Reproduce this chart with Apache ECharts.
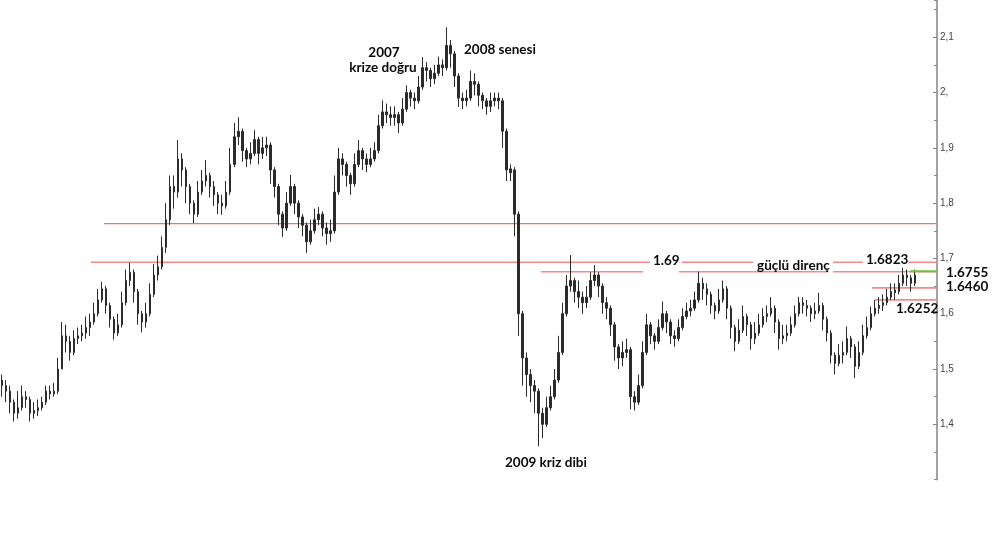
<!DOCTYPE html>
<html>
<head>
<meta charset="utf-8">
<script src="https://cdn.jsdelivr.net/npm/echarts@6/dist/echarts.min.js"></script>
<style>html,body{margin:0;padding:0;background:#fff}#c{width:1000px;height:534px}</style>
</head>
<body>
<div id="c"></div>
<script>
// Weekly-ish OHLC bars (GBP/USD style, 2001 -> 2014)
const opens = [
1.48,1.47,1.46,1.44,1.42,1.43,1.45,1.445,1.42,1.425,
1.43,1.44,1.46,1.455,1.46,1.50,1.56,1.55,1.53,1.555,
1.56,1.565,1.575,1.585,1.60,1.625,1.645,1.615,1.59,1.565,
1.58,1.62,1.66,1.675,1.64,1.60,1.585,1.60,1.635,1.67,
1.685,1.72,1.77,1.83,1.82,1.88,1.86,1.83,1.80,1.78,
1.82,1.84,1.85,1.83,1.815,1.80,1.795,1.82,1.87,1.92,
1.93,1.895,1.88,1.89,1.915,1.89,1.90,1.905,1.86,1.83,
1.78,1.755,1.80,1.83,1.80,1.775,1.76,1.73,1.75,1.77,
1.78,1.755,1.745,1.75,1.82,1.88,1.87,1.85,1.835,1.87,
1.895,1.88,1.87,1.88,1.895,1.94,1.965,1.96,1.955,1.96,
1.945,1.97,2.00,1.99,1.985,2.01,2.045,2.04,2.025,2.035,
2.05,2.045,2.085,2.07,2.03,1.99,1.985,1.99,2.02,2.015,
1.995,1.985,1.975,1.985,1.99,1.985,1.93,1.855,1.86,1.78,
1.60,1.52,1.49,1.47,1.46,1.42,1.40,1.43,1.45,1.48,
1.53,1.60,1.65,1.66,1.64,1.63,1.62,1.63,1.66,1.67,
1.65,1.62,1.61,1.58,1.54,1.52,1.53,1.535,1.45,1.44,
1.47,1.53,1.58,1.56,1.55,1.575,1.60,1.585,1.56,1.555,
1.575,1.595,1.605,1.61,1.625,1.655,1.645,1.635,1.615,1.605,
1.625,1.645,1.61,1.575,1.55,1.57,1.595,1.58,1.555,1.565,
1.58,1.595,1.60,1.61,1.585,1.555,1.56,1.565,1.58,1.60,
1.62,1.615,1.61,1.60,1.605,1.615,1.59,1.565,1.525,1.51,
1.525,1.53,1.555,1.54,1.505,1.53,1.56,1.575,1.60,1.61,
1.615,1.62,1.63,1.638,1.64,1.655,1.67,1.665,1.655];
const closes = [
1.47,1.46,1.44,1.42,1.43,1.45,1.445,1.42,1.425,1.43,
1.44,1.46,1.455,1.46,1.50,1.56,1.55,1.53,1.555,1.56,
1.565,1.575,1.585,1.60,1.625,1.645,1.615,1.59,1.565,1.58,
1.62,1.66,1.675,1.64,1.60,1.585,1.60,1.635,1.67,1.685,
1.72,1.77,1.83,1.82,1.88,1.86,1.83,1.80,1.78,1.82,
1.84,1.85,1.83,1.815,1.80,1.795,1.82,1.87,1.92,1.93,
1.895,1.88,1.89,1.915,1.89,1.90,1.905,1.86,1.83,1.78,
1.755,1.80,1.83,1.80,1.775,1.76,1.73,1.75,1.77,1.78,
1.755,1.745,1.75,1.82,1.88,1.87,1.85,1.835,1.87,1.895,
1.88,1.87,1.88,1.895,1.94,1.965,1.96,1.955,1.96,1.945,
1.97,2.00,1.99,1.985,2.01,2.045,2.04,2.025,2.035,2.05,
2.045,2.085,2.07,2.03,1.99,1.985,1.99,2.02,2.015,1.995,
1.985,1.975,1.985,1.99,1.985,1.93,1.86,1.862,1.78,1.60,
1.52,1.49,1.47,1.46,1.42,1.40,1.43,1.45,1.48,1.53,
1.60,1.65,1.66,1.64,1.63,1.62,1.63,1.66,1.67,1.65,
1.62,1.61,1.58,1.54,1.52,1.53,1.535,1.45,1.44,1.47,
1.53,1.58,1.56,1.55,1.575,1.60,1.585,1.56,1.555,1.575,
1.595,1.605,1.61,1.625,1.655,1.645,1.635,1.615,1.605,1.625,
1.645,1.61,1.575,1.55,1.57,1.595,1.58,1.555,1.565,1.58,
1.595,1.60,1.61,1.585,1.555,1.56,1.565,1.58,1.60,1.62,
1.615,1.61,1.60,1.605,1.615,1.59,1.565,1.525,1.51,1.525,
1.53,1.555,1.54,1.505,1.53,1.56,1.575,1.60,1.61,1.615,
1.62,1.63,1.64,1.643,1.655,1.67,1.665,1.655,1.67];
const lows = [
1.45,1.44,1.42,1.405,1.41,1.425,1.43,1.405,1.41,1.415,
1.425,1.435,1.445,1.45,1.455,1.50,1.53,1.515,1.525,1.545,
1.55,1.555,1.56,1.58,1.595,1.62,1.60,1.575,1.553,1.56,
1.575,1.615,1.65,1.62,1.58,1.566,1.575,1.595,1.63,1.66,
1.68,1.71,1.76,1.79,1.81,1.83,1.80,1.78,1.764,1.775,
1.815,1.83,1.81,1.795,1.78,1.779,1.79,1.815,1.865,1.905,
1.875,1.865,1.87,1.885,1.87,1.88,1.885,1.835,1.81,1.76,
1.739,1.75,1.795,1.78,1.755,1.74,1.71,1.725,1.745,1.76,
1.74,1.725,1.73,1.745,1.815,1.85,1.83,1.815,1.83,1.865,
1.86,1.856,1.865,1.875,1.89,1.935,1.945,1.94,1.94,1.927,
1.94,1.965,1.975,1.97,1.98,2.005,2.02,2.01,2.015,2.03,
2.03,2.04,2.045,2.01,1.974,1.97,1.975,1.985,1.995,1.975,
1.97,1.96,1.965,1.975,1.97,1.90,1.84,1.84,1.74,1.56,
1.47,1.45,1.44,1.42,1.36,1.375,1.395,1.425,1.445,1.475,
1.525,1.595,1.64,1.62,1.61,1.60,1.61,1.625,1.65,1.63,
1.60,1.59,1.56,1.515,1.50,1.505,1.52,1.427,1.425,1.435,
1.465,1.525,1.545,1.535,1.545,1.57,1.565,1.545,1.54,1.55,
1.57,1.59,1.595,1.605,1.62,1.625,1.615,1.60,1.59,1.60,
1.62,1.59,1.555,1.532,1.545,1.565,1.56,1.535,1.545,1.56,
1.575,1.585,1.595,1.565,1.535,1.545,1.55,1.56,1.575,1.595,
1.60,1.595,1.585,1.59,1.60,1.57,1.55,1.51,1.49,1.505,
1.51,1.525,1.52,1.484,1.50,1.525,1.555,1.57,1.595,1.60,
1.605,1.615,1.625,1.625,1.635,1.65,1.65,1.64,1.65];
const highs = [
1.49,1.48,1.47,1.445,1.46,1.47,1.46,1.45,1.44,1.445,
1.45,1.47,1.47,1.475,1.52,1.585,1.58,1.56,1.57,1.575,
1.58,1.595,1.60,1.62,1.645,1.658,1.65,1.62,1.595,1.60,
1.64,1.68,1.692,1.68,1.645,1.605,1.62,1.655,1.69,1.705,
1.74,1.80,1.85,1.85,1.914,1.89,1.865,1.835,1.805,1.84,
1.86,1.878,1.855,1.84,1.82,1.815,1.84,1.90,1.945,1.955,
1.935,1.90,1.91,1.932,1.92,1.92,1.92,1.91,1.865,1.835,
1.785,1.82,1.851,1.835,1.805,1.78,1.765,1.77,1.79,1.793,
1.785,1.765,1.77,1.85,1.90,1.89,1.875,1.855,1.89,1.914,
1.90,1.89,1.90,1.91,1.96,1.986,1.98,1.975,1.975,1.965,
1.99,2.013,2.005,2.00,2.03,2.064,2.055,2.045,2.05,2.065,
2.06,2.118,2.095,2.075,2.035,2.00,2.005,2.04,2.035,2.02,
2.00,1.99,2.00,2.00,2.00,1.99,1.935,1.87,1.865,1.785,
1.605,1.53,1.50,1.48,1.465,1.43,1.45,1.47,1.50,1.56,
1.62,1.67,1.706,1.665,1.66,1.64,1.65,1.675,1.688,1.675,
1.655,1.63,1.615,1.585,1.545,1.55,1.555,1.54,1.46,1.49,
1.55,1.60,1.585,1.565,1.59,1.622,1.605,1.59,1.57,1.59,
1.61,1.62,1.625,1.64,1.676,1.665,1.655,1.64,1.62,1.645,
1.66,1.65,1.615,1.58,1.59,1.615,1.60,1.585,1.585,1.60,
1.61,1.615,1.63,1.615,1.59,1.58,1.58,1.595,1.615,1.63,
1.63,1.625,1.615,1.62,1.638,1.62,1.595,1.57,1.53,1.545,
1.55,1.577,1.56,1.545,1.55,1.58,1.595,1.613,1.625,1.63,
1.635,1.645,1.655,1.655,1.67,1.683,1.68,1.67,1.68];

// Y axis range / tick steps
const yMin = 1.3, yMax = 2.1674, yStep = 0.1, yMinorStep = 0.05;
// empty slots to the right of the last bar (space before the price axis)
const emptySlots = 5;

// Horizontal level lines: value and segments (in bar-index units)
const levelLong   = 1.763;  const longSegs  = [[25.5, 233.5]];
const level169    = 1.693;  const segs169   = [[22.2, 161.8], [169.8, 187.6], [207.5, 215.0], [226.3, 233.5]];
const level16823  = 1.676;  const segs16823 = [[134.6, 160.1], [169.1, 206.3], [207.5, 233.5]];
const level16460  = 1.6468; const segs16460 = [[217.3, 233.5]];
const level16252  = 1.625;  const segs16252 = [[218.0, 233.5]];
const level16755  = 1.6768; const segs16755 = [[226.8, 233.5]];

// Annotation texts
const notes = [
  {t:'2007', x:384, y:53, a:'center'},
  {t:'krize doğru', x:383, y:68, a:'center'},
  {t:'2008 senesi', x:464, y:50, a:'left'},
  {t:'2009 kriz dibi', x:505, y:463, a:'left'},
  {t:'1.69', x:653, y:261, a:'left'},
  {t:'güçlü direnç', x:757, y:266, a:'left'},
  {t:'1.6823', x:866, y:260, a:'left'},
  {t:'1.6755', x:946, y:273, a:'left'},
  {t:'1.6460', x:946, y:287, a:'left'},
  {t:'1.6252', x:896, y:309, a:'left'}
];

const nTotal = opens.length + emptySlots;
const cats = [];
for (let i = 0; i < nTotal; i++) cats.push(String(i));
const ohlc = opens.map((o, i) => [o, closes[i], lows[i], highs[i]]);

function segSeries(level, segs, color, width, z) {
  return segs.map(s => ({
    type: 'line', xAxisIndex: 1, yAxisIndex: 0, silent: true, symbol: 'none', z: z,
    lineStyle: {color: color, width: width}, animation: false,
    data: [[s[0], level], [s[1], level]]
  }));
}

const chart = echarts.init(document.getElementById('c'), null, {renderer: 'canvas'});
const series = [{
  type: 'candlestick', data: ohlc, xAxisIndex: 0, yAxisIndex: 0, barWidth: 2,
  itemStyle: {color: '#2b2b2b', color0: '#2b2b2b', borderColor: '#2b2b2b', borderColor0: '#2b2b2b', borderWidth: 1},
  animation: false, z: 3
}];
series.push(...segSeries(levelLong, longSegs, '#ee6f6f', 1.2, 2));
series.push(...segSeries(level169, segs169, '#f38a8a', 1.6, 2));
series.push(...segSeries(level16823, segs16823, '#f38a8a', 1.6, 2));
series.push(...segSeries(level16460, segs16460, '#f38a8a', 1.6, 2));
series.push(...segSeries(level16252, segs16252, '#f38a8a', 1.6, 2));
series.push(...segSeries(level16755, segs16755, '#6cc23a', 2, 4));

const yCommon = {type: 'value', position: 'right', min: yMin, max: yMax, splitLine: {show: false}};

chart.setOption({
  backgroundColor: '#ffffff',
  animation: false,
  grid: {left: 0, right: 63, top: 0, bottom: 54.4, containLabel: false},
  xAxis: [
    {type: 'category', data: cats, boundaryGap: true, show: false},
    {type: 'value', min: -0.5, max: nTotal - 0.5, show: false}
  ],
  yAxis: [
    Object.assign({}, yCommon, {
      interval: yStep,
      axisLine: {show: true, onZero: false, lineStyle: {color: '#a3a3a3', width: 2}},
      axisTick: {show: true, inside: true, length: 4, lineStyle: {color: '#777'}},
      axisLabel: {
        show: true, margin: 3, color: '#444', fontFamily: 'Liberation Sans', fontSize: 10,
        showMinLabel: false, showMaxLabel: false,
        formatter: v => {
          const r = Math.round(v * 10) / 10;
          let s = String(r).replace('.', ',');
          if (s.indexOf(',') < 0) s += ',';
          return s;
        }
      }
    }),
    Object.assign({}, yCommon, {
      interval: yMinorStep,
      axisLine: {show: false, onZero: false},
      axisTick: {show: true, inside: true, length: 3, lineStyle: {color: '#888'}},
      axisLabel: {show: false}
    })
  ],
  series: series,
  graphic: notes.map(n => ({
    type: 'text', x: n.x, y: n.y, z: 100, silent: true,
    style: {
      text: n.t, fill: '#0a0a0a', font: 'bold 13.5px Lato',
      textAlign: n.a, textVerticalAlign: 'middle', align: n.a, verticalAlign: 'middle'
    }
  }))
});
</script>
</body>
</html>
